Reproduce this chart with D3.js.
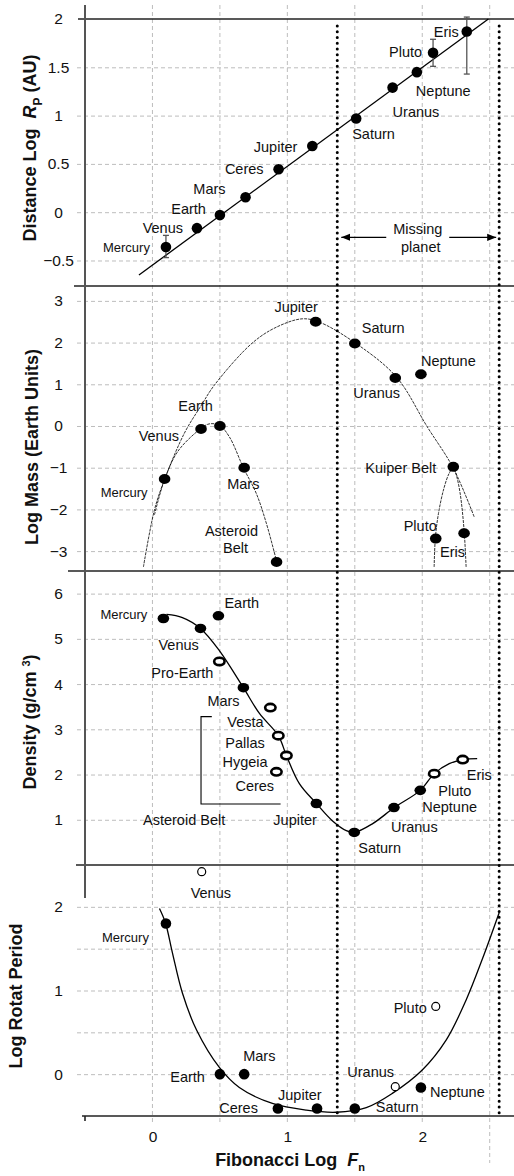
<!DOCTYPE html>
<html><head><meta charset="utf-8">
<script src="https://cdn.jsdelivr.net/npm/d3@7"></script>
<style>
body{margin:0;background:#fff;}
svg text{font-family:"Liberation Sans",Arial,sans-serif;fill:#111;}
</style></head><body>
<svg id="c" width="514" height="1176"></svg>
<script>
// ---------------- DATA ----------------
const xTickValues = [0, 1, 2];
const xGridValues = [0, 0.5, 1, 1.5, 2, 2.5];
const missingPlanetX = [1.37, 2.57];

// Panel 1: distance
const distNames = ["Mercury","Venus","Earth","Mars","Ceres","Jupiter","Saturn","Uranus","Neptune","Pluto","Eris"];
const distX = [0.10, 0.33, 0.50, 0.69, 0.935, 1.185, 1.51, 1.78, 1.96, 2.08, 2.33];
const distY = [-0.36, -0.165, -0.03, 0.155, 0.445, 0.685, 0.97, 1.29, 1.45, 1.65, 1.87];
const distErrLo = [-0.47, null, null, null, null, null, null, null, null, 1.51, 1.43];
const distErrHi = [-0.24, null, null, null, null, null, null, null, null, 1.79, 2.02];
const distFit = [[-0.10, -0.65], [2.49, 2.0]];
const distTicks = [-0.5, 0, 0.5, 1, 1.5, 2];
const distGrid = [-0.5, 0, 0.5, 1, 1.5];
const missingArrowY = -0.26;

// Panel 2: mass
const massNames = ["Mercury","Venus","Earth","Mars","Asteroid Belt","Jupiter","Saturn","Uranus","Neptune","Kuiper Belt","Pluto","Eris"];
const massX = [0.09, 0.36, 0.50, 0.68, 0.92, 1.21, 1.50, 1.80, 1.99, 2.23, 2.10, 2.31];
const massY = [-1.27, -0.07, 0.0, -1.0, -3.26, 2.50, 1.98, 1.15, 1.24, -0.98, -2.70, -2.57];
const massCurveOuter = [[-0.067,-3.38],[0.015,-2.01],[0.089,-1.29],[0.237,-0.17],[0.363,0.50],[0.459,0.98],[0.74,1.99],[0.919,2.37],[1.11,2.57],[1.237,2.49],[1.504,1.99],[1.807,1.18],[2.037,-0.02],[2.23,-1.01],[2.385,-2.18]];
const massCurveInner = [[0.015,-2.13],[0.089,-1.29],[0.19,-0.60],[0.363,-0.05],[0.42,0.05],[0.496,0.02],[0.57,-0.26],[0.674,-1.0],[0.77,-1.62],[0.844,-2.33],[0.92,-3.24]];
const massCurveKuiper = [[2.088,-3.38],[2.097,-2.69],[2.12,-2.1],[2.16,-1.5],[2.2,-1.13],[2.23,-1.0],[2.25,-1.15],[2.28,-1.6],[2.31,-2.5],[2.325,-3.38]];
const massTicks = [-3, -2, -1, 0, 1, 2, 3];

// Panel 3: density
const densNames = ["Mercury","Venus","Earth","Pro-Earth","Mars","Vesta","Pallas","Hygeia","Ceres","Jupiter","Saturn","Uranus","Neptune","Pluto","Eris"];
const densX = [0.081, 0.356, 0.489, 0.496, 0.674, 0.874, 0.933, 0.993, 0.919, 1.215, 1.496, 1.79, 1.985, 2.089, 2.30];
const densY = [5.45, 5.23, 5.51, 4.50, 3.92, 3.48, 2.86, 2.42, 2.06, 1.36, 0.72, 1.27, 1.65, 2.02, 2.33];
const densRing = [false, false, false, true, false, true, true, true, true, false, false, false, false, true, true];
const densCurve = [[0.104,5.54],[0.222,5.47],[0.356,5.23],[0.496,4.74],[0.674,3.92],[0.793,3.35],[0.933,2.86],[0.993,2.42],[1.089,1.80],[1.215,1.36],[1.333,0.98],[1.437,0.76],[1.496,0.72],[1.63,0.91],[1.793,1.27],[1.985,1.65],[2.089,2.02],[2.2,2.24],[2.304,2.33],[2.407,2.35]];
const densTicks = [1, 2, 3, 4, 5, 6];
const beltBracket = {x: 0.36, top: 3.28, bottom: 1.35, topEnd: 0.44, bottomEnd: 0.95};

// Panel 4: rotation
const rotNames = ["Venus","Mercury","Earth","Mars","Ceres","Jupiter","Saturn","Uranus","Neptune","Pluto"];
const rotX = [0.365, 0.10, 0.50, 0.68, 0.93, 1.22, 1.50, 1.80, 1.99, 2.10];
const rotY = [2.42, 1.80, 0.0, 0.0, -0.41, -0.41, -0.41, -0.15, -0.16, 0.81];
const rotOpen = [true, false, false, false, false, false, false, true, false, true];
const rotCurve = [[0.052,1.98],[0.096,1.81],[0.148,1.45],[0.222,0.97],[0.326,0.53],[0.496,0.08],[0.644,-0.16],[0.889,-0.35],[1.141,-0.43],[1.363,-0.455],[1.585,-0.40],[1.778,-0.23],[2.0,0.05],[2.178,0.41],[2.326,0.89],[2.444,1.37],[2.57,1.93]];
const rotTicks = [0, 1, 2];
const rotGrid = [0, 0.5, 1, 1.5, 2];

// ---------------- LAYOUT (label placement, px offsets) ----------------
const lab1 = {Mercury:[-16,0,"end"],Venus:[-14,0,"end"],Earth:[-14,-6,"end"],Mars:[-20,-8,"end"],Ceres:[-15,0,"end"],Jupiter:[-15,1,"end"],Saturn:[-4,15,"start"],Uranus:[0,24,"start"],Neptune:[-1,19,"start"],Pluto:[-11,-1,"end"],Eris:[-8,0,"end"]};
const lab2 = {Mercury:[-17,13,"end"],Venus:[-22,7,"end"],Earth:[-7,-20,"end"],Mars:[-17,16,"start"],Jupiter:[-19.5,-15,"middle"],Saturn:[7,-16,"start"],Uranus:[-42,15,"start"],Neptune:[0,-13,"start"],"Kuiper Belt":[-17,1,"end"],Pluto:[1,-13,"end"],Eris:[1,19,"end"]};
const lab3 = {Mercury:[-16,-4,"end"],Venus:[-42,16,"start"],Earth:[6,-13,"start"],"Pro-Earth":[-68,11,"start"],Mars:[-36,13,"start"],Vesta:[-43,14,"start"],Pallas:[-53,7,"start"],Hygeia:[-64,6,"start"],Ceres:[-41,14,"start"],Jupiter:[-43,16,"start"],Saturn:[4,15,"start"],Uranus:[-3,19,"start"],Neptune:[2,17,"start"],Pluto:[4,17,"start"],Eris:[4,15,"start"]};
const lab4 = {Venus:[-11,21,"start"],Mercury:[-17,14,"end"],Earth:[-15,3,"end"],Mars:[-1,-18,"start"],Ceres:[-20,-1,"end"],Jupiter:[-39,-14,"start"],Saturn:[21,-2,"start"],Uranus:[-48,-15,"start"],Neptune:[9,4,"start"],Pluto:[-9,2,"end"]};

// ---------------- SCALES ----------------
const svg = d3.select("#c");
const x = d3.scaleLinear().domain([-0.5, 2.68]).range([85, 514]);
const y1 = d3.scaleLinear().domain([-0.764, 2]).range([286, 19]);
const y2 = d3.scaleLinear().domain([-3.477, 3.357]).range([571, 286]);
const y3 = d3.scaleLinear().domain([0, 6.5]).range([865, 571]);
const y4 = d3.scaleLinear().domain([-0.5, 2.5]).range([1116, 865]);

const gridColor = "#bdbdbd";
const LABEL = 14.5;

// horizontal grids
function hGrid(ys, vals){
  const g = svg.append("g").attr("transform","translate(77,0)")
    .call(d3.axisLeft(ys).tickValues(vals).tickSize(-(514-77)).tickFormat(""));
  g.select(".domain").remove();
  g.selectAll("line").attr("stroke",gridColor).attr("stroke-dasharray","4,3").attr("stroke-width",1);
}
hGrid(y1, distGrid);
hGrid(y2, massTicks);
hGrid(y3, densTicks);
hGrid(y4, rotGrid);

// vertical grids
const vg = svg.append("g");
vg.selectAll("line").data(xGridValues).join("line")
  .attr("x1", d=>x(d)).attr("x2", d=>x(d))
  .attr("y1", 5).attr("y2", d=> d===2.5 ? 1163 : 1124)
  .attr("stroke", gridColor).attr("stroke-dasharray","4,3").attr("stroke-width",1);

// panel dividers
const dividers = [[19,78],[286,74],[571,68],[865,76],[1116,82]];
svg.append("g").selectAll("line").data(dividers).join("line")
  .attr("x1", d=>d[1]).attr("x2", 514).attr("y1", d=>d[0]).attr("y2", d=>d[0])
  .attr("stroke","#222").attr("stroke-width",1.6);

// left axis line
svg.append("line").attr("x1",85).attr("x2",85).attr("y1",5).attr("y2",898).attr("stroke","#555").attr("stroke-width",2);
svg.append("line").attr("x1",85).attr("x2",85).attr("y1",1116).attr("y2",1121).attr("stroke","#222").attr("stroke-width",1.6);

// y tick labels
function yLabels(ys, vals, fmt){
  const g = svg.append("g").attr("transform","translate(85,0)")
    .call(d3.axisLeft(ys).tickValues(vals).tickSize(0).tickFormat(fmt || d3.format("")));
  g.select(".domain").remove();
  g.selectAll("text").attr("x",-26.5).attr("text-anchor","middle")
    .style("font-size","15.5px").style("font-family",'"Liberation Sans",Arial,sans-serif').attr("fill","#111");
}
yLabels(y1, distTicks);
yLabels(y2, massTicks);
yLabels(y3, densTicks);
yLabels(y4, rotTicks);

// x tick labels
const xa = svg.append("g").attr("transform","translate(0,1116)")
  .call(d3.axisBottom(x).tickValues(xTickValues).tickSize(0).tickFormat(d3.format("")));
xa.select(".domain").remove();
xa.selectAll("text").attr("y",26).attr("dy","0").style("font-size","15.5px")
  .style("font-family",'"Liberation Sans",Arial,sans-serif').attr("fill","#111");

// dotted missing-planet lines
svg.append("g").selectAll("line").data(missingPlanetX).join("line")
  .attr("x1", d=>x(d)).attr("x2", d=>x(d)).attr("y1", 26).attr("y2", 1117)
  .attr("stroke","#000").attr("stroke-width",3).attr("stroke-linecap","round")
  .attr("stroke-dasharray","0,5.75");

// ---------- Panel 1 ----------
svg.append("path").datum(distFit)
  .attr("d", d3.line().x(d=>x(d[0])).y(d=>y1(d[1])))
  .attr("fill","none").attr("stroke","#000").attr("stroke-width",1.3);

const errIdx = distNames.map((n,i)=>i).filter(i=>distErrLo[i]!==null);
const eg = svg.append("g").attr("stroke","#555").attr("stroke-width",1.3);
errIdx.forEach(i=>{
  const cx = x(distX[i]);
  eg.append("line").attr("x1",cx).attr("x2",cx).attr("y1",y1(distErrLo[i])).attr("y2",y1(distErrHi[i]));
  eg.append("line").attr("x1",cx-3).attr("x2",cx+3).attr("y1",y1(distErrLo[i])).attr("y2",y1(distErrLo[i]));
  eg.append("line").attr("x1",cx-3).attr("x2",cx+3).attr("y1",y1(distErrHi[i])).attr("y2",y1(distErrHi[i]));
});
svg.append("g").selectAll("circle").data(distNames).join("circle")
  .attr("cx",(d,i)=>x(distX[i])).attr("cy",(d,i)=>y1(distY[i])).attr("r",5.3).attr("fill","#000");

function labels(names, xs, ys, yScale, pos){
  svg.append("g").selectAll("text").data(names).join("text")
    .attr("x",(d,i)=>x(xs[i]) + pos[d][0])
    .attr("y",(d,i)=>yScale(ys[i]) + pos[d][1])
    .attr("dy","0.35em")
    .attr("text-anchor", d=>pos[d][2])
    .style("font-size", d=> d==="Mercury" ? "13px" : LABEL+"px")
    .text(d=>d);
}
labels(distNames, distX, distY, y1, lab1);

// missing planet annotation
const ay = y1(missingArrowY);
svg.append("defs").append("marker").attr("id","ah").attr("viewBox","0 0 10 10")
  .attr("refX",10).attr("refY",5).attr("markerWidth",9).attr("markerHeight",9).attr("orient","auto-start-reverse")
  .attr("markerUnits","userSpaceOnUse")
  .append("path").attr("d","M0,1 L10,5 L0,9 Z").attr("fill","#000");
svg.append("line").attr("x1", x(1.733)).attr("x2", x(missingPlanetX[0])+4).attr("y1",ay).attr("y2",ay)
  .attr("stroke","#000").attr("stroke-width",1.2).attr("marker-end","url(#ah)");
svg.append("line").attr("x1", x(2.2)).attr("x2", x(missingPlanetX[1])-3).attr("y1",ay).attr("y2",ay)
  .attr("stroke","#000").attr("stroke-width",1.2).attr("marker-end","url(#ah)");
const mx = (x(1.733)+x(2.2))/2;
svg.append("text").attr("x",mx).attr("y",ay-8).attr("dy","0.35em").attr("text-anchor","middle").style("font-size",LABEL+"px").text("Missing");
svg.append("text").attr("x",mx+3).attr("y",ay+10).attr("dy","0.35em").attr("text-anchor","middle").style("font-size",LABEL+"px").text("planet");

// ---------- Panel 2 ----------
const cl2 = d3.line().x(d=>x(d[0])).y(d=>y2(d[1])).curve(d3.curveCatmullRom.alpha(0.5));
[massCurveOuter, massCurveInner, massCurveKuiper].forEach(c=>{
  svg.append("path").datum(c).attr("d",cl2).attr("fill","none").attr("stroke","#000")
    .attr("stroke-width",0.8).attr("stroke-dasharray","3,1");
});
svg.append("g").selectAll("ellipse").data(massNames).join("ellipse")
  .attr("cx",(d,i)=>x(massX[i])).attr("cy",(d,i)=>y2(massY[i])).attr("rx",5.8).attr("ry",5).attr("fill","#000");
const lab2Names = massNames.filter(n=>n!=="Asteroid Belt");
labels(lab2Names, lab2Names.map(n=>massX[massNames.indexOf(n)]), lab2Names.map(n=>massY[massNames.indexOf(n)]), y2, lab2);
{
  const i = massNames.indexOf("Asteroid Belt");
  const bx = x(massX[i]), by = y2(massY[i]);
  svg.append("text").attr("x",bx-45).attr("y",by-31).attr("dy","0.35em").attr("text-anchor","middle").style("font-size",LABEL+"px").text("Asteroid");
  svg.append("text").attr("x",bx-41).attr("y",by-14).attr("dy","0.35em").attr("text-anchor","middle").style("font-size",LABEL+"px").text("Belt");
}

// ---------- Panel 3 ----------
const cl3 = d3.line().x(d=>x(d[0])).y(d=>y3(d[1])).curve(d3.curveCatmullRom.alpha(0.5));
svg.append("path").datum(densCurve).attr("d",cl3).attr("fill","none").attr("stroke","#000").attr("stroke-width",1.3);
svg.append("path")
  .attr("d", `M${x(beltBracket.topEnd)},${y3(beltBracket.top)} H${x(beltBracket.x)} V${y3(beltBracket.bottom)} H${x(beltBracket.bottomEnd)}`)
  .attr("fill","none").attr("stroke","#000").attr("stroke-width",1.1);
svg.append("g").selectAll("ellipse").data(densNames).join("ellipse")
  .attr("cx",(d,i)=>x(densX[i])).attr("cy",(d,i)=>y3(densY[i]))
  .attr("rx",(d,i)=>densRing[i]?5.2:5.8).attr("ry",(d,i)=>densRing[i]?3.7:4.8)
  .attr("fill",(d,i)=>densRing[i]?"#fff":"#000")
  .attr("stroke","#000").attr("stroke-width",(d,i)=>densRing[i]?2.6:0);
labels(densNames, densX, densY, y3, lab3);
svg.append("text").attr("x",x(beltBracket.x)-58).attr("y",y3(beltBracket.bottom)+16).attr("dy","0.35em")
  .style("font-size",LABEL+"px").text("Asteroid Belt");

// ---------- Panel 4 ----------
const cl4 = d3.line().x(d=>x(d[0])).y(d=>y4(d[1])).curve(d3.curveCatmullRom.alpha(0.5));
svg.append("path").datum(rotCurve).attr("d",cl4).attr("fill","none").attr("stroke","#000").attr("stroke-width",1.3);
svg.append("g").selectAll("circle").data(rotNames).join("circle")
  .attr("cx",(d,i)=>x(rotX[i])).attr("cy",(d,i)=>y4(rotY[i]))
  .attr("r",(d,i)=>rotOpen[i]?4:5.3)
  .attr("fill",(d,i)=>rotOpen[i]?"#fff":"#000")
  .attr("stroke","#000").attr("stroke-width",(d,i)=>rotOpen[i]?1.2:0);
labels(rotNames, rotX, rotY, y4, lab4);

// ---------- Axis titles ----------
function yTitle(cx, cy){
  return svg.append("text").attr("transform",`translate(${cx},${cy}) rotate(-90)`)
    .attr("text-anchor","middle").attr("dy","0.35em")
    .style("font-size","18px").style("font-weight","bold");
}
{
  const t = yTitle(30, 148);
  t.append("tspan").text("Distance Log\u00a0\u00a0");
  t.append("tspan").style("font-style","italic").text("R");
  t.append("tspan").attr("dy","6").style("font-size","12px").text("P");
  t.append("tspan").attr("dy","-6").text(" (AU)");
}
yTitle(32, 447).text("Log Mass (Earth Units)");
{
  const t = yTitle(30, 722);
  t.append("tspan").text("Density (g/cm\u00a0");
  t.append("tspan").attr("dy","-6").style("font-size","11px").text("3");
  t.append("tspan").attr("dy","6").text(")");
}
yTitle(16, 996).text("Log Rotat Period");
{
  const t = svg.append("text").attr("x",290).attr("y",1166).attr("text-anchor","middle")
    .style("font-size","18px").style("font-weight","bold");
  t.append("tspan").text("Fibonacci Log\u00a0\u00a0");
  t.append("tspan").style("font-style","italic").text("F");
  t.append("tspan").attr("dy","5").style("font-size","11px").text("n");
}
</script>
</body></html>
